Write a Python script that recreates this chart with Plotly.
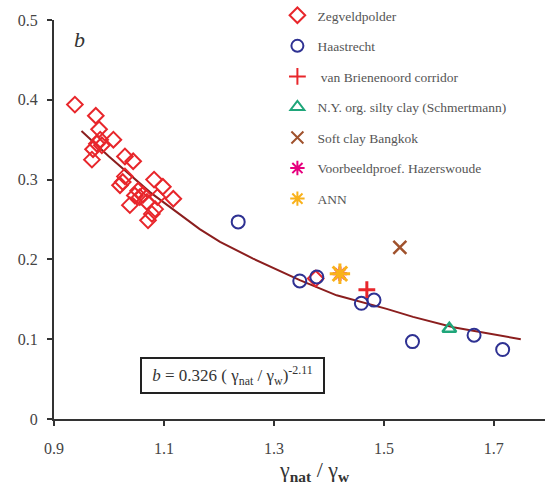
import plotly.graph_objects as go

# ---- data ----
zeg_x = [0.938, 0.976, 0.982, 1.008, 0.984, 0.978, 0.971, 0.987, 0.969, 1.029, 1.044,
         1.029, 1.025, 1.020, 1.082, 1.098, 1.117, 1.053, 1.047, 1.056, 1.062, 1.038,
         1.069, 1.088, 1.084, 1.078, 1.071, 1.376]
zeg_y = [0.394, 0.380, 0.363, 0.350, 0.350, 0.345, 0.338, 0.343, 0.325, 0.329, 0.323,
         0.304, 0.297, 0.293, 0.300, 0.291, 0.276, 0.286, 0.280, 0.278, 0.281, 0.268,
         0.272, 0.278, 0.263, 0.257, 0.249, 0.176]

haa_x = [1.235, 1.347, 1.378, 1.459, 1.482, 1.552, 1.664, 1.716]
haa_y = [0.247, 0.173, 0.178, 0.145, 0.149, 0.097, 0.105, 0.087]

vbc_x = [1.469]; vbc_y = [0.162]
ny_x = [1.619]; ny_y = [0.113]
bkk_x = [1.529]; bkk_y = [0.215]
hzw_x = [1.420]; hzw_y = [0.182]
ann_x = [1.420]; ann_y = [0.182]

fit_x = [0.950, 1.000, 1.075, 1.165, 1.202, 1.262, 1.347, 1.414, 1.505, 1.553, 1.626, 1.749]
fit_y = [0.361, 0.329, 0.284, 0.238, 0.222, 0.201, 0.174, 0.155, 0.138, 0.128, 0.115, 0.100]

x_ticks = [0.9, 1.1, 1.3, 1.5, 1.7]
y_ticks = [0, 0.1, 0.2, 0.3, 0.4, 0.5]

SERIF = "serif"
fig = go.Figure()

fig.add_trace(go.Scatter(x=fit_x, y=fit_y, mode="lines", showlegend=False,
                         line=dict(color="#8b1e1e", width=2)))

def sc(x, y, name, symbol, color, size, lw):
    fig.add_trace(go.Scatter(x=x, y=y, mode="markers", name=name, legendgroup=name,
                             marker=dict(symbol=symbol, size=size, color=color,
                                         line=dict(color=color, width=lw))))

sc(zeg_x, zeg_y, "Zegveldpolder", "diamond-open", "#e8262b", 12, 2)
sc(haa_x, haa_y, "Haastrecht", "circle-open", "#2e3192", 13, 2)
sc(vbc_x, vbc_y, " van Brienenoord corridor", "cross-thin", "#e8262b", 12, 3)
sc(ny_x, ny_y, "N.Y. org. silty clay (Schmertmann)", "triangle-up-open", "#1fa67a", 12, 2.5)
sc(bkk_x, bkk_y, "Soft clay Bangkok", "x-thin", "#a0522d", 13, 2.5)
sc(hzw_x, hzw_y, "Voorbeeldproef. Hazerswoude", "asterisk-open", "#e6007e", 12, 3)
sc(ann_x, ann_y, "ANN", "asterisk-open", "#f9b21b", 17, 3)

axis_common = dict(showgrid=False, zeroline=False, showline=True, linecolor="#333333",
                   linewidth=2, ticks="outside", ticklen=5, tickwidth=2, tickcolor="#333333",
                   tickfont=dict(family=SERIF, size=16, color="#444444"))

fig.update_xaxes(range=[0.9, 1.793], tickvals=x_ticks, ticklabelstandoff=9, **axis_common)
fig.update_yaxes(range=[0, 0.5], tickvals=y_ticks, ticklabelstandoff=6, **axis_common)

fig.add_annotation(xref="paper", yref="paper", x=0.051, y=0.952, xanchor="center",
                   yanchor="middle", text="<i>b</i>",
                   showarrow=False, font=dict(family=SERIF, size=22, color="#333333"))
fig.add_annotation(xref="paper", yref="paper", x=0.363, y=0.109, xanchor="center",
                   yanchor="middle",
                   text="<i>b</i> = 0.326 ( γ<sub>nat</sub> / γ<sub>w</sub>)<sup>-2.11</sup>",
                   showarrow=False, width=179, height=31, borderwidth=2, borderpad=1,
                   bordercolor="#222222", bgcolor="white",
                   font=dict(family=SERIF, size=17, color="#333333"))
fig.add_annotation(xref="paper", yref="paper", x=0.53, y=-0.13, xanchor="center",
                   yanchor="middle",
                   text="γ<sub><b>nat</b></sub> / γ<sub><b>w</b></sub>", showarrow=False,
                   font=dict(family=SERIF, size=22, color="#333333"))

fig.update_layout(
    width=545, height=494,
    margin=dict(l=54, r=0, t=19, b=75),
    paper_bgcolor="white", plot_bgcolor="white",
    font=dict(family=SERIF),
    legend=dict(x=0.455, xanchor="left", y=1.05, yanchor="top", tracegroupgap=10,
                itemsizing="constant",
                font=dict(family=SERIF, size=13.5, color="#555555"),
                bgcolor="rgba(0,0,0,0)"),
)

fig.write_html("out.html")
